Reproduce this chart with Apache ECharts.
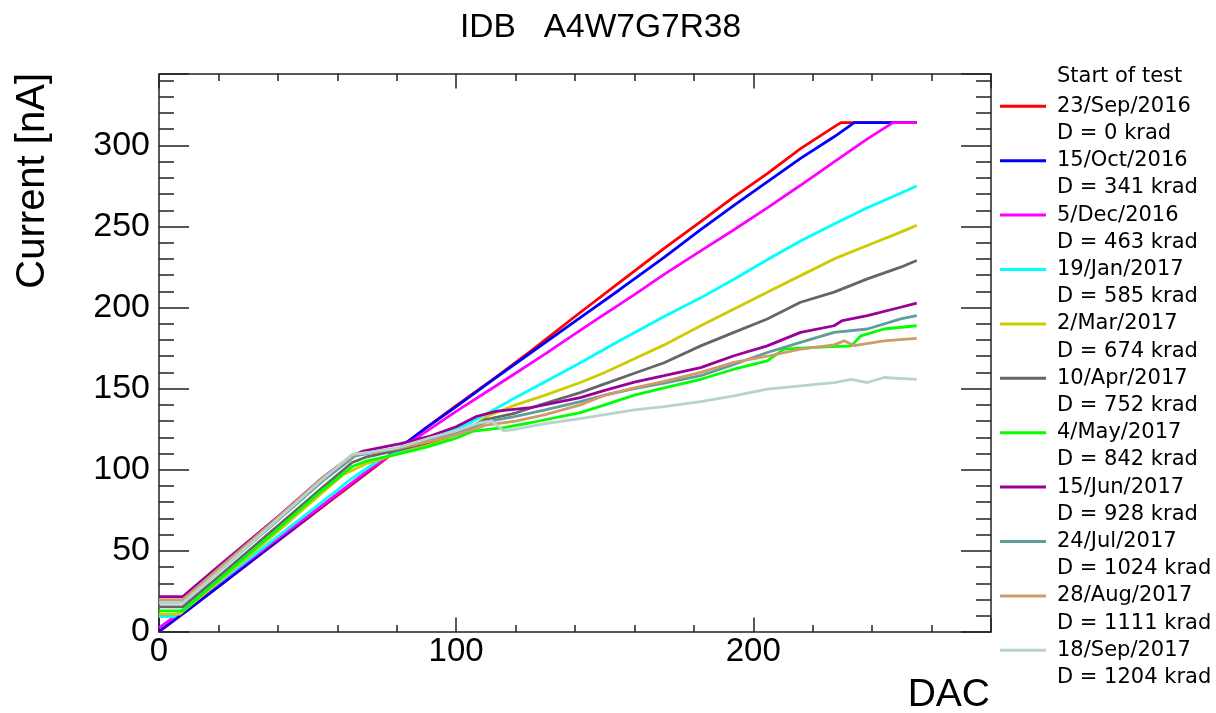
<!DOCTYPE html>
<html>
<head>
<meta charset="utf-8">
<script src="https://cdn.jsdelivr.net/npm/echarts@6/dist/echarts.min.js"></script>
<style>html,body{margin:0;padding:0;background:#fff}#c{width:1216px;height:713px}</style>
</head>
<body>
<div id="c"></div>
<script>
// ---- data (DAC, current nA) ----
const testDates = ['23/Sep/2016','15/Oct/2016','5/Dec/2016','19/Jan/2017','2/Mar/2017','10/Apr/2017','4/May/2017','15/Jun/2017','24/Jul/2017','28/Aug/2017','18/Sep/2017'];
const doses = ['D = 0 krad','D = 341 krad','D = 463 krad','D = 585 krad','D = 674 krad','D = 752 krad','D = 842 krad','D = 928 krad','D = 1024 krad','D = 1111 krad','D = 1204 krad'];

const d0 = [[0,0],[10,14],[20,28],[30,42],[40,56],[50,70],[60,84],[70,98],[80,112],[90,126],[100,139.5],[112.6,156],[125,173],[140,194.5],[155,215.5],[170,236.5],[182.3,253],[193.5,268.2],[204.7,282.6],[215.9,298],[227.2,311.4],[229.5,314],[255,314]];
const d341 = [[0,0.5],[10,14],[20,28],[40,56.5],[60,85],[80,112.5],[90,126],[100,139],[112,155],[125,172],[140,191.5],[155,211],[170,231],[182.3,248],[193.5,263],[204.7,277.5],[215.9,292],[227.2,305.3],[234,314],[255,314]];
const d463 = [[0,2.5],[10,16],[20,30],[40,57.5],[60,85],[70,99],[80,112],[85,117.5],[100,136],[117,156],[130,171.5],[145,190],[160,208],[170,220.5],[182.3,235],[193.5,248],[204.7,261.5],[215.9,275.4],[227.2,289.8],[238.4,304],[247,314],[255,314]];
const d585 = [[0,9.5],[5,9.5],[20,30.5],[40,59],[60,87.5],[64.4,94],[74.5,106.5],[85,114],[95,121.5],[104.8,129],[118,142.5],[131.7,156],[141.8,166],[155,179.5],[170,194.5],[182.3,206],[193.5,217.5],[204.7,229.5],[215.9,241],[227.2,251.5],[238.4,261.5],[249.6,270.5],[255,275]];
const d674 = [[0,11],[7,11],[20,31],[40,62],[55,86],[62,97],[70,104],[78,108.5],[85,112.5],[95,118],[104,124.5],[110.4,133],[120,140],[130,146],[141.8,153.8],[150,160],[160,168.5],[170,177],[182.3,188.8],[193.5,199.1],[204.7,209.5],[215.9,219.7],[227.2,230],[238.4,238.3],[249.6,246.5],[255,250.7]];
const d752 = [[0,15.5],[8,15.5],[20,34],[40,65.5],[55,89],[65,104.5],[70,108],[80,112],[90,116.5],[100,122],[110,131],[120,135],[130,141],[141.8,147.6],[150,153],[160,159.5],[170,166],[182.3,176.4],[193.5,184.7],[204.7,193],[215.9,203.3],[227.2,209.5],[238.4,217.7],[249.6,224.9],[255,229]];
const d842 = [[0,13],[8,13],[20,32],[40,63.5],[55,87.5],[65,102],[70,105.5],[80,109.5],[90,114],[100,119.5],[105.9,123.9],[116,126],[125,129],[141.8,135.2],[150,140],[160,146],[170,150.5],[182.3,155.8],[193.5,162],[204.7,167.2],[210.3,174.4],[220.4,175.5],[233,176.4],[236.2,182.6],[244,186.8],[255,188.8]];
const d928 = [[0,21.8],[8,21.8],[20,40.5],[40,71],[55,95],[64,107.5],[68.7,111.5],[80,115.6],[91.3,120.8],[100,126.5],[107,133],[113.8,136.2],[125,138.3],[141.8,144.5],[150,149],[160,154],[170,158],[182.3,163],[193.5,170.3],[204.7,176.4],[215.9,184.7],[227.2,188.8],[230,192],[238.4,195],[249.6,200.2],[255,202.8]];
const d1024 = [[0,18],[8,18],[20,37],[40,69],[55,93],[66,108.5],[70,110],[80,113],[90,117.5],[100,122.5],[110,129.5],[120,133],[130,137],[141.8,142],[150,146],[160,150],[170,153.5],[182.3,158],[193.5,165],[204.7,172.3],[215.9,178.5],[227.2,184.7],[238.4,186.8],[249.6,193],[255,195]];
const d1111 = [[0,20],[8,20],[20,39],[40,70.5],[55,95],[66,109.5],[70,110.5],[80,113],[90,117],[100,121.5],[110,127.5],[120,130],[130,134],[141.8,140],[150,146],[160,150.5],[170,154.5],[182.3,160],[193.5,166.2],[204.7,170],[215.9,174.4],[227.2,177],[230.6,179.5],[234,176.5],[244,179.5],[255,181]];
const d1204 = [[0,18],[8,18],[20,37],[40,69.5],[55,94],[65,109.5],[70,110.5],[80,113.5],[90,119],[100,124],[108,129],[112,130],[116,124],[120,125],[130,128.5],[141.8,131.5],[150,134],[160,137],[170,139],[182.3,142],[193.5,145.5],[204.7,149.7],[215.9,151.7],[227.2,153.8],[233,155.8],[238.4,153.8],[244,156.9],[255,155.8]];
const seriesData = [d0,d341,d463,d585,d674,d752,d842,d928,d1024,d1111,d1204];

const xTickValues = [0,100,200];
const yTickValues = [0,50,100,150,200,250,300];

// ---- styles ----
const colors = ['#ff0000','#0000ff','#ff00ff','#00ffff','#cccc00','#666666','#00ff00','#990099','#5f9c9c','#d09a6a','#b6d4cb'];
const FONT = '"Liberation Sans", Arial, Helvetica, sans-serif';
const LFONT = '"DejaVu Sans", "Liberation Sans", sans-serif';
const AX = {color:'#222', width:1.5};

const doseOf = {};
testDates.forEach((d,i)=>{doseOf[d]=doses[i];});

function xAx(pos, interval, len, labels, line){
  return {type:'value', position:pos, min:0, max:280, interval:interval,
    axisLine:{show:line, onZero:false, lineStyle:AX},
    axisTick:{show:true, inside:true, length:len, lineStyle:AX},
    axisLabel:labels?{show:true, margin:3, fontSize:33, color:'#000', fontFamily:FONT,
      formatter:v=>xTickValues.indexOf(v)>=0?String(v):''}:{show:false},
    splitLine:{show:false}};
}
function yAx(pos, interval, len, labels, line){
  return {type:'value', position:pos, min:0, max:344, interval:interval,
    axisLine:{show:line, onZero:false, lineStyle:AX},
    axisTick:{show:true, inside:true, length:len, lineStyle:AX},
    axisLabel:labels?{show:true, margin:9, fontSize:34, color:'#000', fontFamily:FONT,
      formatter:v=>yTickValues.indexOf(v)>=0?String(v):''}:{show:false},
    splitLine:{show:false}};
}

const chart = echarts.init(document.getElementById('c'), null, {renderer:'canvas'});
chart.setOption({
  animation:false,
  backgroundColor:'#fff',
  title:[
    {text:'IDB   A4W7G7R38', left:460, top:11, padding:0,
      textStyle:{fontSize:33.5, fontWeight:'normal', color:'#000', fontFamily:FONT}},
    {text:'Start of test', left:1057, top:66.5, padding:0,
      textStyle:{fontSize:21, fontWeight:'normal', color:'#000', fontFamily:LFONT}}
  ],
  grid:{left:159, right:225, top:74, bottom:81, containLabel:false},
  xAxis:[xAx('bottom',20,7,true,true), xAx('bottom',100,14.5,false,false), xAx('top',20,7,false,true), xAx('top',100,14.5,false,false)],
  yAxis:[yAx('left',10,15,false,true), yAx('left',50,30,true,false), yAx('right',10,15,false,true), yAx('right',50,30,false,false)],
  legend:{orient:'vertical', left:1000, top:65.5, padding:0, itemWidth:46, itemHeight:3, itemGap:-27.2, icon:'rect',
    selectedMode:false, data:testDates,
    formatter:name=>'\n'+name+'\n'+doseOf[name],
    textStyle:{fontSize:21, lineHeight:27.2, color:'#000', fontFamily:LFONT, padding:[0,0,0,6]}},
  graphic:[
    {type:'text', x:33, y:73, rotation:Math.PI/2,
      style:{text:'Current [nA]', align:'right', verticalAlign:'middle', fontSize:40, fill:'#000', fontFamily:FONT}},
    {type:'text', x:990, y:695,
      style:{text:'DAC', align:'right', verticalAlign:'middle', fontSize:39, fill:'#000', fontFamily:FONT}}
  ],
  series:seriesData.map((d,i)=>({
    name:testDates[i], type:'line', data:d, xAxisIndex:0, yAxisIndex:0,
    showSymbol:false, symbol:'none', smooth:false,
    lineStyle:{color:colors[i], width:2.8}, itemStyle:{color:colors[i]},
    emphasis:{disabled:true}
  }))
});
</script>
</body>
</html>
